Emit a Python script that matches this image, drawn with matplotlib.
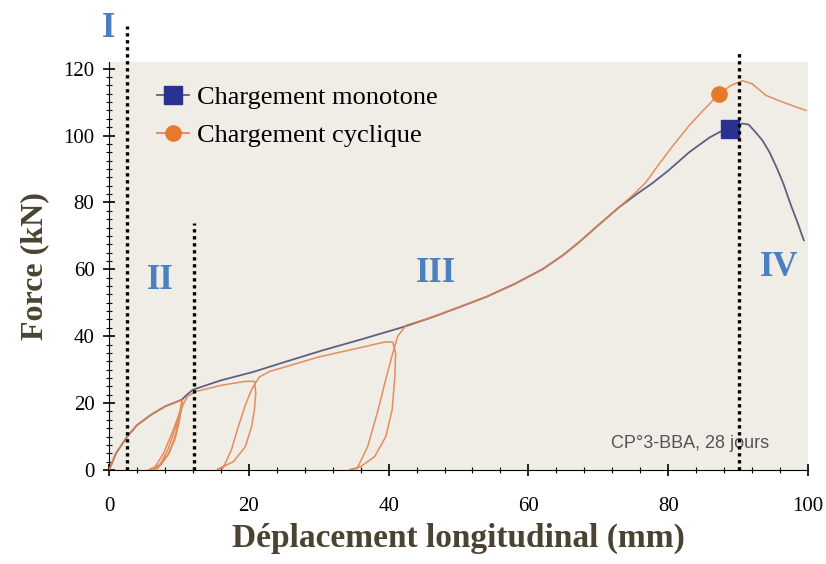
"""Force vs longitudinal displacement, monotone and cyclic loading."""

import matplotlib
matplotlib.use('Agg')
import matplotlib.pyplot as plt
from matplotlib.lines import Line2D
from matplotlib.ticker import MultipleLocator

# Monotone loading curve (mm, kN)
mono_x = [0, 1.0, 2.6, 4.0, 6.0, 8.0, 10.4, 11.2, 12.0, 16.0, 20.6, 25.0, 30.6,
          36.0, 42.0, 46.0, 50.0, 54.0, 58.0, 62.0, 65.0, 67.3, 70.0, 73.0,
          75.5, 77.7, 80.0, 83.0, 85.9, 87.5, 88.8, 90.6, 91.5, 92.5, 93.5,
          94.5, 95.5, 96.5, 97.5, 98.5, 99.4]
mono_y = [0, 5.0, 10.0, 13.4, 16.5, 19.0, 21.0, 22.6, 24.0, 26.8, 29.3, 32.2, 35.8,
          39.0, 42.7, 45.5, 48.6, 51.8, 55.6, 60.0, 64.3, 68.2, 73.2, 78.6,
          82.5, 85.7, 89.5, 95.0, 99.4, 101.2, 102.0, 103.6, 103.3, 101.0, 98.5,
          95.0, 90.5, 85.5, 79.5, 74.0, 68.7]

# Cyclic loading curve, with three unload / reload loops
cyc_x = [0, 1.0, 2.6, 4.0, 6.0, 8.0, 10.4,
         10.3, 10.0, 9.4, 8.4, 7.2, 5.6,
         6.4, 7.8, 9.0, 9.9, 10.5,
         10.2, 9.6, 8.6, 7.4, 6.2,
         7.0, 8.4, 9.6, 10.5, 11.2, 12.5,
         16.0, 19.5, 20.8,
         21.0, 20.8, 20.4, 19.5, 17.8, 15.5,
         16.3, 17.5, 18.5, 19.6, 20.5, 21.5, 23.0, 25.0,
         30.0, 36.0, 39.5, 40.6,
         41.0, 40.9, 40.5, 39.6, 38.0, 36.0, 34.3,
         35.5, 37.0, 38.5, 39.7, 40.6, 41.3, 42.5,
         46.0, 50.0, 54.0, 58.0, 62.0, 65.0, 67.3, 70.0, 73.0, 75.0,
         76.8, 78.7, 80.5, 83.0, 85.0, 87.3, 89.0, 90.6, 92.0, 94.0,
         95.9, 97.7, 99.7]
cyc_y = [0, 5.0, 10.0, 13.4, 16.5, 19.0, 21.0,
         18.0, 14.0, 9.0, 4.5, 1.5, 0.0,
         0.3, 5.0, 11.0, 16.0, 20.5,
         17.0, 11.0, 5.0, 1.5, 0.0,
         0.5, 6.0, 13.0, 19.0, 22.0, 23.5,
         25.3, 26.5, 26.5,
         23.0, 18.0, 13.0, 7.0, 2.5, 0.2,
         0.5, 6.0, 13.0, 20.0, 24.5, 27.8, 29.5, 30.7,
         33.8, 36.6, 38.3, 38.2,
         35.0, 28.0, 18.0, 10.0, 4.0, 1.0, 0.0,
         0.5, 7.0, 18.0, 28.0, 35.0, 40.0, 43.3,
         45.5, 48.6, 51.8, 55.6, 60.0, 64.3, 68.2, 73.2, 78.6, 82.3,
         86.0, 91.5, 96.5, 103.0, 107.5,
         112.5, 115.0, 116.4, 115.5, 112.0, 110.4, 109.0, 107.5]

# Points marked on each curve
mono_mark = (88.8, 102.0)
cyc_mark = (87.3, 112.5)

# Phase boundaries (x, top of the dotted line) and phase labels
phase_x = [2.6, 12.1, 90.1]
phase_top = [132.8, 74.0, 125.4]
phase_labels = ['I', 'II', 'III', 'IV']
phase_label_x = [-0.1, 7.3, 46.8, 95.8]
phase_label_y = [132.0, 56.8, 58.9, 60.4]

x_ticks = [0, 20, 40, 60, 80, 100]
y_ticks = [0, 20, 40, 60, 80, 100, 120]

fig = plt.figure(figsize=(8.26, 5.64), dpi=100)
ax = fig.add_axes([0.132, 0.1667, 0.8462, 0.7234])
ax.set_facecolor('#efede6')

serif = ['Liberation Serif', 'DejaVu Serif']
label_color = '#4b4331'
mono_color = '#5f6080'
cyc_color = '#e4834f'

ax.plot(mono_x, mono_y, color=mono_color, lw=1.3, zorder=3)
ax.plot(cyc_x, cyc_y, color=cyc_color, lw=1.1, alpha=0.9, zorder=4)
ax.plot(*mono_mark, marker='s', ms=13, color='#2a3291', zorder=5)
ax.plot(*cyc_mark, marker='o', ms=11, color='#e8782a', zorder=5)

# Dotted phase boundaries, some reaching above the axes
for px, top in zip(phase_x, phase_top):
    ax.plot([px, px], [0, top], color='black', lw=2.4, ls=(0, (1, 1.1)),
            clip_on=False, zorder=6)

for lab, lx, ly in zip(phase_labels, phase_label_x, phase_label_y):
    ax.text(lx, ly, lab, ha='center', va='center', fontsize=25,
            fontweight='bold', color='#4a7fc0', family=serif, clip_on=False)

ax.text(0.831, 0.066, 'CP°3-BBA, 28 jours', transform=ax.transAxes,
        ha='center', va='center', fontsize=13, color='#555555',
        family=['Liberation Sans', 'DejaVu Sans'])

ax.set_xlim(0, 100)
ax.set_ylim(0, 122)
ax.set_xticks(x_ticks)
ax.set_yticks(y_ticks)
ax.xaxis.set_minor_locator(MultipleLocator(4))
ax.yaxis.set_minor_locator(MultipleLocator(2.5))
ax.tick_params(which='major', direction='inout', length=9, width=1.2)
ax.tick_params(which='minor', direction='inout', length=5, width=0.8)
ax.tick_params(axis='x', which='major', pad=15)
ax.tick_params(axis='y', which='major', pad=6)
for lab in ax.get_xticklabels() + ax.get_yticklabels():
    lab.set_family(serif)
    lab.set_fontsize(15)

for side in ['top', 'right']:
    ax.spines[side].set_visible(False)

ax.set_xlabel('Déplacement longitudinal (mm)', fontsize=24, fontweight='bold',
              color=label_color, family=serif, labelpad=5)
ax.set_ylabel('Force (kN)', fontsize=23, fontweight='bold',
              color=label_color, family=serif, labelpad=10)

handles = [
    Line2D([], [], color=mono_color, lw=1.3, marker='s', ms=13,
           markerfacecolor='#2a3291', markeredgecolor='#2a3291'),
    Line2D([], [], color=cyc_color, lw=1.3, marker='o', ms=11,
           markerfacecolor='#e8782a', markeredgecolor='#e8782a'),
]
ax.legend(handles, ['Chargement monotone', 'Chargement cyclique'],
          loc='upper left', bbox_to_anchor=(0.035, 1.0), frameon=False,
          prop={'family': serif, 'size': 19}, handlelength=1.2,
          handletextpad=0.3, labelspacing=0.55)

fig.savefig('out.png', dpi=100, facecolor='white')
